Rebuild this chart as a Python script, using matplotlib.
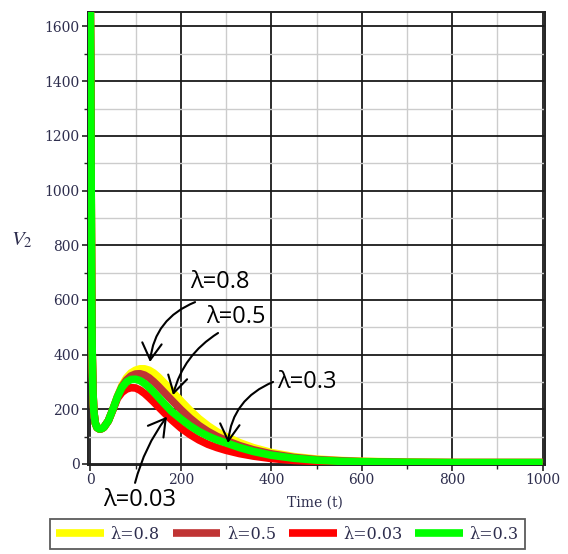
import numpy as np
import matplotlib
matplotlib.use("Agg")
import matplotlib.pyplot as plt
from matplotlib.ticker import MultipleLocator

# Time grid (t) and V2 response for each lambda
time = [0, 1, 2, 3, 4, 6, 8, 11, 15, 20, 25, 30, 40, 50, 60, 70, 80, 90, 100,
        110, 120, 130, 140, 150, 165, 180, 200, 220, 240, 260, 280, 300, 330,
        360, 400, 450, 500, 550, 600, 700, 800, 900, 1000]

v2_lam08 = [1700, 1450, 1000, 650, 430, 260, 190, 150, 133, 128, 129, 134, 158, 200,
            247, 287, 315, 333, 343, 348, 348, 343, 333, 319, 294, 267, 231, 197,
            166, 140, 118, 100, 78, 60, 42, 27, 18, 13, 10, 7, 5, 5, 5]
v2_lam05 = [1700, 1450, 1000, 650, 430, 260, 190, 150, 133, 128, 129, 134, 158, 200,
            246, 283, 307, 322, 329, 330, 325, 315, 301, 285, 259, 233, 199, 168,
            141, 119, 101, 86, 67, 52, 37, 24, 16, 12, 9, 6, 5, 5, 5]
v2_lam003 = [1700, 1450, 1000, 650, 430, 260, 190, 150, 133, 128, 129, 134, 158, 198,
             240, 262, 274, 279, 278, 270, 258, 243, 227, 210, 185, 161, 132, 108,
             88, 72, 60, 50, 38, 29, 20, 13, 9, 7, 6, 5, 5, 5, 5]
v2_lam03 = [1700, 1450, 1000, 650, 430, 260, 190, 150, 133, 128, 129, 134, 158, 200,
            245, 280, 300, 309, 310, 305, 294, 280, 263, 245, 218, 192, 165, 140,
            119, 102, 88, 77, 60, 46, 32, 21, 14, 10, 8, 6, 5, 5, 5]

series = [
    (v2_lam08, "#ffff00", "λ=0.8"),
    (v2_lam05, "#c03434", "λ=0.5"),
    (v2_lam003, "#ff0000", "λ=0.03"),
    (v2_lam03, "#00ff00", "λ=0.3"),
]

tick_color = "#2e2e4e"
serif = ["DejaVu Serif"]
plt.rcParams["mathtext.fontset"] = "stix"

fig = plt.figure(figsize=(5.68, 5.54), dpi=100)
ax = fig.add_axes([88 / 568, 1 - 465 / 554, (545 - 88) / 568, (465 - 12) / 554])

for vals, color, label in series:
    ax.plot(time, vals, color=color, lw=5.5, label=label,
            solid_joinstyle="round", solid_capstyle="butt", zorder=3)

ax.set_xlim(-5, 1005)
ax.set_ylim(-3.7, 1653)

ax.xaxis.set_major_locator(MultipleLocator(200))
ax.xaxis.set_minor_locator(MultipleLocator(100))
ax.yaxis.set_major_locator(MultipleLocator(200))
ax.yaxis.set_minor_locator(MultipleLocator(100))

ax.grid(which="major", color="#1a1a1a", lw=1.3, zorder=1)
ax.grid(which="minor", color="#cccccc", lw=1.0, zorder=0)
ax.set_axisbelow(True)

ax.tick_params(which="major", direction="out", length=4, width=1.2,
               color="#222222", labelcolor=tick_color, labelsize=10, pad=2)
ax.tick_params(which="minor", direction="out", length=3, width=1.0, color="#222222")
for lab in ax.get_xticklabels() + ax.get_yticklabels():
    lab.set_family(serif)

for sp in ax.spines.values():
    sp.set_color("#222222")
    sp.set_linewidth(1.4)

fig.text(22 / 568, 1 - 240 / 554, r"$V_2$", fontsize=15, color=tick_color,
         ha="center", va="center")
fig.text(315 / 568, 1 - 503 / 554, "Time (t)", fontsize=10, color=tick_color,
         ha="center", va="center", family=serif)

# Curved arrows pointing at each curve
ann_font = dict(fontsize=17, family=["Open Sans", "DejaVu Sans"], color="black",
                ha="center", va="center")
arrow = dict(arrowstyle="->,head_length=0.6,head_width=0.35", color="black", lw=1.5,
             mutation_scale=20, shrinkA=0, shrinkB=0)

ax.text(287.3, 665, "λ=0.8", **ann_font, zorder=5)
ax.annotate("", xy=(132, 373), xytext=(231.6, 592),
            arrowprops=dict(**arrow, connectionstyle="arc3,rad=0.3"), zorder=5)

ax.text(322.3, 537, "λ=0.5", **ann_font, zorder=5)
ax.annotate("", xy=(183, 252), xytext=(282.4, 479),
            arrowprops=dict(**arrow, connectionstyle="arc3,rad=0.2"), zorder=5)

ax.text(479, 300, "λ=0.3", **ann_font, zorder=5)
ax.annotate("", xy=(304.5, 77), xytext=(404, 300),
            arrowprops=dict(**arrow, connectionstyle="arc3,rad=0.3"), zorder=5)

ax.text(108, -132, "λ=0.03", **ann_font, zorder=5, clip_on=False)
ax.annotate("", xy=(169.5, 173), xytext=(99, -69),
            arrowprops=dict(**arrow, connectionstyle="arc3,rad=-0.1"),
            annotation_clip=False, zorder=5)

leg = fig.legend(loc="center", bbox_to_anchor=(0.506, 0.036), ncol=4,
                 prop={"family": serif, "size": 11.5}, frameon=True, fancybox=False,
                 edgecolor="#333333", handlelength=3.0, handletextpad=0.4,
                 columnspacing=0.8, borderpad=0.4, borderaxespad=0)
leg.get_frame().set_linewidth(1.3)
for text in leg.get_texts():
    text.set_color(tick_color)

fig.savefig("out.png", dpi=100)
